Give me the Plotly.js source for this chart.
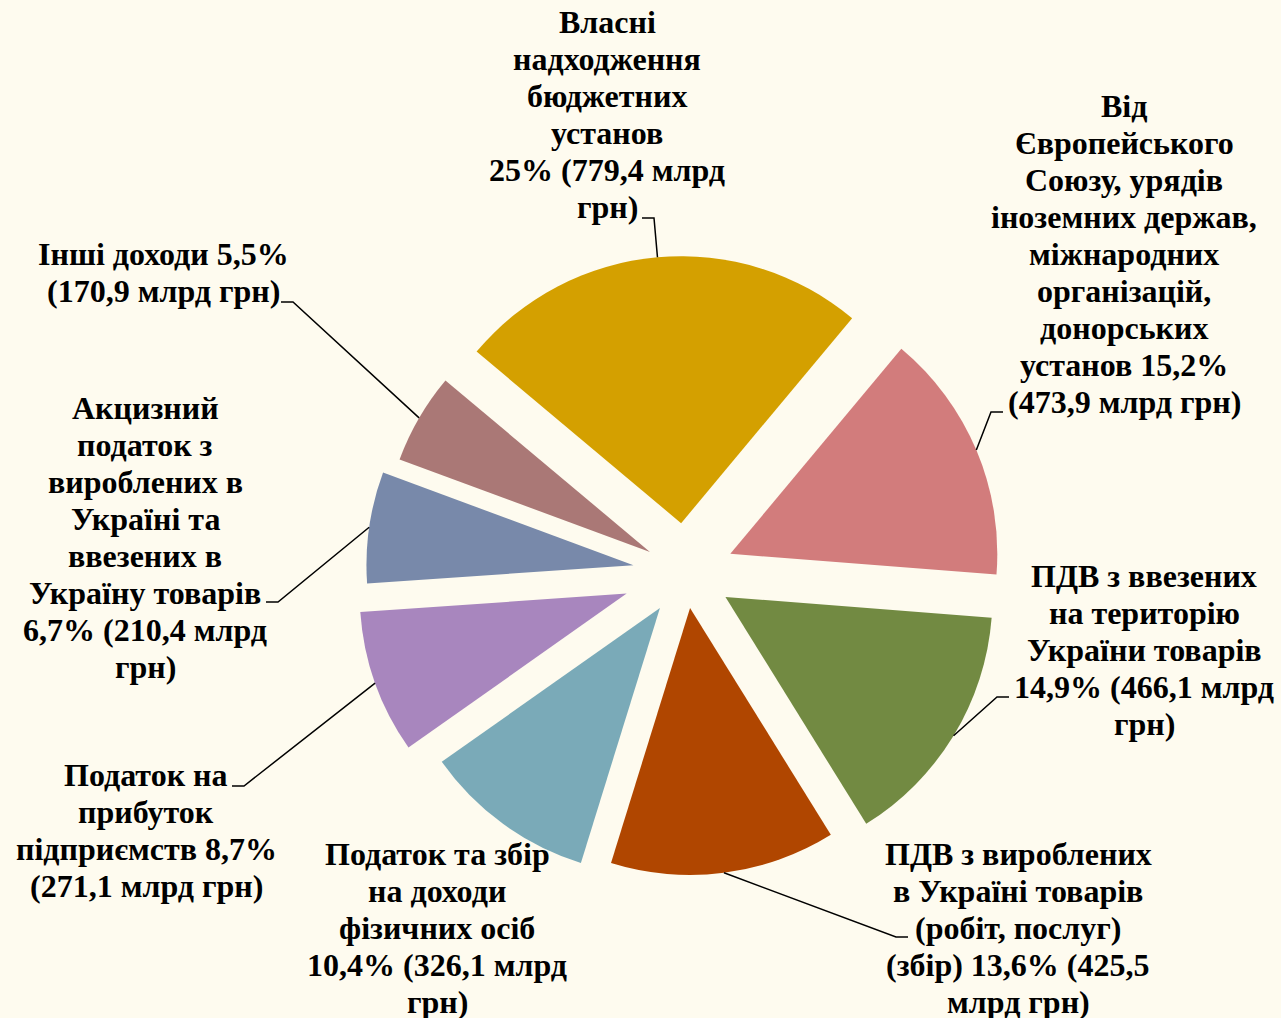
<!DOCTYPE html>
<html>
<head>
<meta charset="utf-8">
<script src="https://cdn.plot.ly/plotly-3.0.1.min.js"></script>
<style>
html,body{margin:0;padding:0;background:#FEFBEF;}
#chart{width:1281px;height:1018px;}
</style>
</head>
<body>
<div id="chart"></div>
<script>
// ---- data ----
var categories = [
  "Власні надходження бюджетних установ",
  "Від Європейського Союзу, урядів іноземних держав, міжнародних організацій, донорських установ",
  "ПДВ з ввезених на територію України товарів",
  "ПДВ з вироблених в Україні товарів (робіт, послуг) (збір)",
  "Податок та збір на доходи фізичних осіб",
  "Податок на прибуток підприємств",
  "Акцизний податок з вироблених в Україні та ввезених в Україну товарів",
  "Інші доходи"
];
var valuesBn = [779.4, 473.9, 466.1, 425.5, 326.1, 271.1, 210.4, 170.9];
var sharesPct = ["25%", "15,2%", "14,9%", "13,6%", "10,4%", "8,7%", "6,7%", "5,5%"];
var labelTexts = [
  "Власні<br>надходження<br>бюджетних<br>установ<br>25% (779,4 млрд<br>грн)",
  "Від<br>Європейського<br>Союзу, урядів<br>іноземних держав,<br>міжнародних<br>організацій,<br>донорських<br>установ 15,2%<br>(473,9 млрд грн)",
  "ПДВ з ввезених<br>на територію<br>України товарів<br>14,9% (466,1 млрд<br>грн)",
  "ПДВ з вироблених<br>в Україні товарів<br>(робіт, послуг)<br>(збір) 13,6% (425,5<br>млрд грн)",
  "Податок та збір<br>на доходи<br>фізичних осіб<br>10,4% (326,1 млрд<br>грн)",
  "Податок на<br>прибуток<br>підприємств 8,7%<br>(271,1 млрд грн)",
  "Акцизний<br>податок з<br>вироблених в<br>Україні та<br>ввезених в<br>Україну товарів<br>6,7% (210,4 млрд<br>грн)",
  "Інші доходи 5,5%<br>(170,9 млрд грн)"
];

// ---- style / layout ----
var W = 1281, H = 1018;
var colors = ["#D4A000", "#D27C7C", "#728A42", "#B04600", "#7AAAB8", "#A886BE", "#7889AA", "#AA7876"];
var pulls = [0.186, 0.182, 0.175, 0.133, 0.163, 0.234, 0.197, 0.154];
var rotationDeg = -50;
var domX = [0.2779, 0.7924], domY = [0.1138, 0.7611];
// label position: centre x and first-line centre y (px); line step (px)
var labelX = [607, 1124, 1144, 1018, 437, 146, 145, 163];
var labelFirstY = [22, 106, 576, 854, 854, 775, 408, 254];
var lineStep = 37;
var fontSize = 32;
// leader tick start (px) and direction of the short horizontal tick (+1 right, -1 left, 0 none)
var tickStart = [[642, 218], [1003, 412], [1009, 697], [908, 937], null, [232, 786], [266, 602], [281, 302]];
var tickDir = [1, -1, -1, -1, 0, 1, 1, 1];
var tickLen = 12;

// pie geometry (same formulas Plotly uses)
var boxW = W * (domX[1] - domX[0]), boxH = H * (domY[1] - domY[0]);
var maxPull = Math.max.apply(null, pulls);
var R = Math.min(boxW, boxH) / 2 / (1 + maxPull);
var CX = W * (domX[0] + domX[1]) / 2;
var CY = H * (1 - domY[0]) - boxH / 2;
var total = valuesBn.reduce(function(a, b){ return a + b; }, 0);

var shapes = [], annotations = [];
var cum = 0;
function px(x){ return x / W; }
function py(y){ return 1 - y / H; }
for (var i = 0; i < valuesBn.length; i++) {
  var mid = (rotationDeg + 360 * (cum + valuesBn[i] / 2) / total) * Math.PI / 180;
  cum += valuesBn[i];
  var rr = R * (1 + pulls[i]);
  var ex = CX + rr * Math.sin(mid), ey = CY - rr * Math.cos(mid);
  if (tickStart[i]) {
    var sx = tickStart[i][0], sy = tickStart[i][1];
    var kx = sx + tickDir[i] * tickLen;
    shapes.push({type: "path", xref: "paper", yref: "paper",
      path: "M" + px(sx) + "," + py(sy) + " L" + px(kx) + "," + py(sy) + " L" + px(ex) + "," + py(ey),
      line: {color: "#000000", width: 1.5}});
  }
  var lines = labelTexts[i].split("<br>");
  for (var j = 0; j < lines.length; j++) {
    annotations.push({
      xref: "paper", yref: "paper",
      x: px(labelX[i]), y: py(labelFirstY[i] + j * lineStep),
      xanchor: "center", yanchor: "middle", align: "center",
      showarrow: false, text: "<b>" + lines[j] + "</b>",
      font: {family: "Liberation Serif", size: fontSize, color: "#000000"}
    });
  }
}

var trace = {
  type: "pie",
  labels: categories,
  values: valuesBn,
  sort: false,
  direction: "clockwise",
  rotation: rotationDeg,
  pull: pulls,
  marker: {colors: colors, line: {width: 0}},
  textinfo: "none",
  hoverinfo: "label+value",
  showlegend: false,
  domain: {x: domX, y: domY}
};

var layout = {
  width: W, height: H,
  margin: {l: 0, r: 0, t: 0, b: 0},
  paper_bgcolor: "#FEFBEF",
  plot_bgcolor: "#FEFBEF",
  showlegend: false,
  font: {family: "Liberation Serif"},
  shapes: shapes,
  annotations: annotations
};

Plotly.newPlot("chart", [trace], layout, {displayModeBar: false, staticPlot: true});
</script>
</body>
</html>
